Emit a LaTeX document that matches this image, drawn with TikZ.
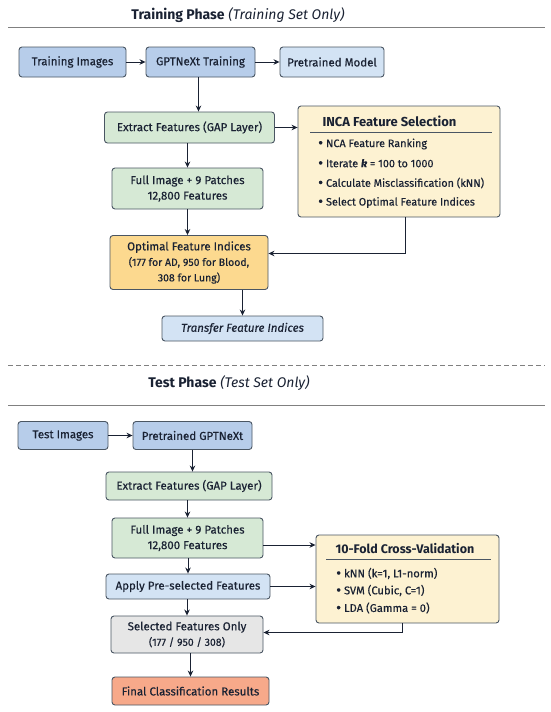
\documentclass[tikz,border=0pt]{standalone}
\usepackage{fontspec}
\setmainfont{Fira Sans}
\newfontfamily\medfont{Fira Sans}[FakeBold=0.35]
\usetikzlibrary{arrows.meta}
\definecolor{edge}{HTML}{4A5663}
\definecolor{bdark}{HTML}{B7CDEA}
\definecolor{blight}{HTML}{D3E3F4}
\definecolor{gbox}{HTML}{D6E9D5}
\definecolor{ybox}{HTML}{FDF2D2}
\definecolor{obox}{HTML}{FCD98F}
\definecolor{grbox}{HTML}{E6E6E6}
\definecolor{rbox}{HTML}{F7A98A}
\definecolor{txt}{HTML}{1A2233}
\newcommand{\bdot}{{\fontsize{15}{10}\selectfont\raisebox{-0.8pt}{•}}\hspace{3pt}}
\begin{document}
\begin{tikzpicture}[x=1pt,y=-1pt,
  box/.style={draw=edge, line width=0.9pt, rounded corners=3pt, align=center,
    font=\medfont\fontsize{11.5}{15.5}\selectfont, text=txt, inner sep=0pt},
  arr/.style={-{Stealth[length=6pt,width=5.5pt]}, line width=0.9pt, draw=txt},
  rule/.style={line width=0.8pt, draw=gray},
  ttl/.style={font=\fontsize{14}{16}\selectfont, text=txt},
  bhead/.style={font=\bfseries\fontsize{13}{15}\selectfont, text=txt},
  bul/.style={anchor=west, font=\medfont\fontsize{10.8}{12}\selectfont, text=txt, inner sep=0pt},
  bulb/.style={anchor=west, font=\medfont\fontsize{11.2}{12}\selectfont, text=txt, inner sep=0pt}]
\useasboundingbox (0,0) rectangle (550,712);
\fill[white] (0,0) rectangle (550,712);

% ---------- Training phase ----------
\node[ttl] (t1) at (238,15) {\textbf{Training Phase} \textit{(Training Set Only)}};
\coordinate (l1a) at (8,27); \coordinate (l1b) at (545,27);
\draw[rule] (l1a) -- (l1b);

\node[box, fill=bdark, minimum width=107pt, minimum height=30pt] (ti) at (72.5,62) {Training Images};
\node[box, fill=bdark, minimum width=109pt, minimum height=30pt] (gt) at (200.5,62) {GPTNeXt Training};
\node[box, fill=blight, minimum width=104pt, minimum height=30pt] (pm) at (332,62) {Pretrained Model};

\node[box, fill=gbox, minimum width=170pt, minimum height=31pt] (ef1) at (189.5,127.5) {Extract Features (GAP Layer)};
\node[box, fill=ybox, minimum width=202pt, minimum height=111pt] (inca) at (399,161.5) {};
\node[bhead, anchor=west] (incat) at (319,121) {INCA Feature Selection};
\coordinate (s1a) at (310,132); \coordinate (s1b) at (492,132);
\draw[line width=0.6pt, draw=edge] (s1a) -- (s1b);
\node[bul] (b1) at (318,144) {\bdot NCA Feature Ranking};
\node[bul] (b2) at (318,163.5) {\bdot Iterate \textbf{\textit{k}} = 100 to 1000};
\node[bul] (b3) at (318,183) {\bdot Calculate Misclassification (kNN)};
\node[bul] (b4) at (318,202.5) {\bdot Select Optimal Feature Indices};

\node[box, fill=gbox, minimum width=151pt, minimum height=41pt] (fi1) at (187.5,188.5) {Full Image + 9 Patches\\12,800 Features};
\node[box, fill=obox, minimum width=158pt, minimum height=54pt] (op) at (189,262.5) {Optimal Feature Indices\\{\fontsize{10.5}{15}\selectfont(177 for AD, 950 for Blood,}\\{\fontsize{10.5}{15}\selectfont 308 for Lung)}};
\node[box, fill=blight, minimum width=161pt, minimum height=25pt] (tf) at (242.5,328.5) {\textit{Transfer Feature Indices}};

\draw[arr] (ti) -- (gt);
\draw[arr] (gt) -- (pm);
\draw[arr] (gt.south) ++(-2pt,0) coordinate (g1) -- (g1 |- ef1.north);
\draw[arr] (ef1.east) -- (inca.west |- ef1.east);
\draw[arr] (ef1.south -| fi1) -- (fi1.north);
\draw[arr] (fi1.south) -- (fi1.south |- op.north);
\draw[arr] ([xshift=6pt]inca.south) |- ([yshift=9pt]op.east);
\draw[arr] (tf.north |- op.south) -- (tf.north);

\coordinate (d1) at (8,365); \coordinate (d2) at (545,365);
\draw[line width=0.8pt, draw=gray, dash pattern=on 5pt off 3pt] (d1) -- (d2);

% ---------- Test phase ----------
\node[ttl] (t2) at (229,383) {\textbf{Test Phase} \textit{(Test Set Only)}};
\coordinate (l2a) at (8,405); \coordinate (l2b) at (545,405);
\draw[rule] (l2a) -- (l2b);

\node[box, fill=bdark, minimum width=90pt, minimum height=28pt] (tst) at (63,435.5) {Test Images};
\node[box, fill=bdark, minimum width=119pt, minimum height=28pt] (pg) at (192.5,435.5) {Pretrained GPTNeXt};
\node[box, fill=gbox, minimum width=166pt, minimum height=28pt] (ef2) at (189,486) {Extract Features (GAP Layer)};
\node[box, fill=gbox, minimum width=151pt, minimum height=40pt] (fi2) at (187.5,538) {Full Image + 9 Patches\\12,800 Features};
\node[box, fill=blight, minimum width=164pt, minimum height=25pt] (ap) at (188,586.5) {Apply Pre-selected Features};
\node[box, fill=grbox, minimum width=152pt, minimum height=37pt] (sel) at (187,634.5) {Selected Features Only\\{\fontsize{10.5}{15}\selectfont(177 / 950 / 308)}};
\node[box, fill=rbox, minimum width=157pt, minimum height=28pt] (fin) at (190.5,691) {Final Classification Results};

\node[box, fill=ybox, minimum width=183pt, minimum height=88pt] (cv) at (407.5,579) {};
\node[bhead, anchor=west, font=\bfseries\fontsize{12.5}{15}\selectfont] (cvt) at (332,549) {10-Fold Cross-Validation};
\coordinate (s2a) at (326,559.5); \coordinate (s2b) at (491,559.5);
\draw[line width=0.6pt, draw=edge] (s2a) -- (s2b);
\node[bulb] (c1) at (336,573.5) {\bdot kNN (k=1, L1-norm)};
\node[bulb] (c2) at (336,590.5) {\bdot SVM (Cubic, C=1)};
\node[bulb] (c3) at (336,608) {\bdot LDA (Gamma = 0)};

\draw[arr] (tst) -- (pg);
\draw[arr] (pg.south) -- (pg.south |- ef2.north);
\draw[arr] (ef2.south -| fi2) -- (fi2.north);
\draw[arr] ([yshift=-7pt]fi2.east) coordinate (f2e) -- (cv.west |- f2e);
\draw[arr] (ap.east) -- (cv.west |- ap.east);
\draw[arr] (fi2.south -| ap) -- (ap.north);
\draw[arr] (ap.south -| sel) -- (sel.north);
\draw[arr] ([xshift=-5pt]cv.south) |- ([yshift=2pt]sel.east);
\draw[arr] (sel.south -| fin) -- (fin.north);
\end{tikzpicture}
\end{document}
